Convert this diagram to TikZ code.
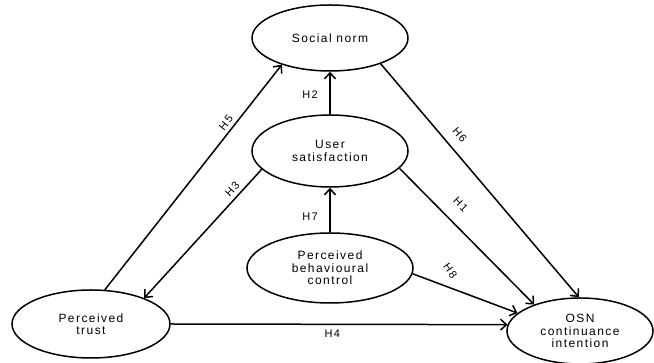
\documentclass[tikz,border=0pt]{standalone}
\usepackage{fontspec}
\setmainfont{Liberation Sans}[LetterSpace=12]
\usetikzlibrary{shapes.geometric,arrows.meta}
\tikzset{
  construct/.style={ellipse, draw, line width=1.5pt, inner sep=0pt, align=center,
    font=\fontsize{12}{12.5}\selectfont},
  arr/.style={line width=1.5pt, -{Straight Barb[length=6pt,width=11pt,line width=1.5pt]}},
  lbl/.style={font=\fontsize{11}{12}\selectfont, inner sep=1.5pt}
}
\begin{document}
\begin{tikzpicture}[x=1pt,y=1pt]
\useasboundingbox (0,0) rectangle (654,363);
\node[construct, minimum width=156pt, minimum height=66pt] (sn) at (330,325) {Social norm};
\node[construct, minimum width=156pt, minimum height=72pt] (us) at (330,212) {User\\satisfaction};
\node[construct, minimum width=166pt, minimum height=70pt] (pbc) at (330,95) {Perceived\\behavioural\\control};
\node[construct, minimum width=158pt, minimum height=68pt] (pt) at (91,39) {Perceived\\trust};
\node[construct, minimum width=146pt, minimum height=66pt] (osn) at (580,32) {OSN\\continuance\\intention};

\draw[arr] (pt.68.5) -- node[lbl, pos=0.72, sloped, above=2pt] {H5} (sn.209.5);
\draw[arr] (us.195.8) -- node[lbl, pos=0.2, sloped, above=2pt] {H3} (pt.26.6);
\draw[arr] (us.north) -- node[lbl, pos=0.45, xshift=-20pt] {H2} (sn.south);
\draw[arr] (pbc.north) -- node[lbl, pos=0.35, xshift=-20pt] {H7} (us.south);
\draw[arr] (sn.-27) -- node[lbl, pos=0.345, sloped, above=8pt] {H6} (osn.92);
\draw[arr] (us.-14) -- node[lbl, pos=0.36, sloped, above=12pt] {H1} (osn.150);
\draw[arr] (pbc.-4) -- node[lbl, pos=0.36, yshift=17pt, rotate=-55] {H8} (osn.164);
\draw[arr] (pt.0) -- node[lbl, pos=0.48, below=3pt] {H4} (osn.175);
\end{tikzpicture}
\end{document}
